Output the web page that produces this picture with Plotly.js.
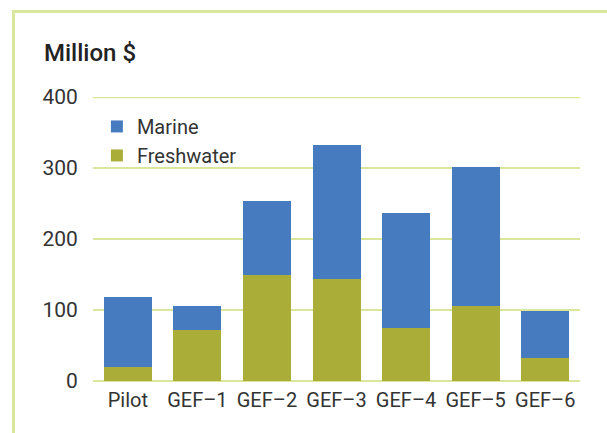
<!DOCTYPE html>
<html>
<head>
<meta charset="utf-8">
<script src="https://cdn.plot.ly/plotly-3.0.1.min.js"></script>
<style>
  html, body { margin: 0; padding: 0; background: #ffffff; }
  #wrap { position: relative; width: 607px; height: 433px; overflow: hidden; }
  #chart { position: absolute; left: 0; top: 0; width: 607px; height: 433px; }
  #frame {
    position: absolute; left: 12px; top: 10px; width: 620px; height: 450px;
    border-left: 3px solid #d9e79c; border-top: 3px solid #d9e79c;
    box-sizing: border-box; pointer-events: none;
  }
</style>
</head>
<body>
<div id="wrap">
  <div id="chart"></div>
  <div id="frame"></div>
</div>
<script>
// Funding per GEF period, million US$
const periods = ["Pilot", "GEF\u20131", "GEF\u20132", "GEF\u20133", "GEF\u20134", "GEF\u20135", "GEF\u20136"];
const freshwater = [20, 72, 150, 143, 75, 106, 33];
const marine = [99, 34, 104, 190, 161, 195, 65];
const yTicks = [0, 100, 200, 300, 400];
const yMax = 400;

const FONT = "Roboto, 'DejaVu Sans', sans-serif";
const TEXT = "#333333";
const GRID = "#d9e79c";

const traces = [
  {
    type: "bar", name: "Freshwater", x: periods, y: freshwater,
    marker: { color: "#aaae38" }, hoverinfo: "skip"
  },
  {
    type: "bar", name: "Marine", x: periods, y: marine,
    marker: { color: "#477bbf" }, hoverinfo: "skip"
  }
];

const layout = {
  width: 607, height: 433,
  margin: { l: 93, r: 27, t: 97, b: 52 },
  paper_bgcolor: "rgba(0,0,0,0)",
  plot_bgcolor: "rgba(0,0,0,0)",
  barmode: "stack",
  bargap: 0.31,
  font: { family: FONT, size: 21, color: TEXT },
  title: {
    text: "Million $",
    font: { family: FONT, size: 24, color: "#222222", weight: 500 },
    xref: "container", yref: "container",
    x: 44 / 607, xanchor: "left",
    y: 1 - 53 / 433, yanchor: "middle"
  },
  xaxis: {
    showgrid: false, zeroline: false, showline: false,
    ticks: "outside", ticklen: 1, tickcolor: "rgba(0,0,0,0)",
    tickfont: { family: FONT, size: 20, color: TEXT },
    fixedrange: true
  },
  yaxis: {
    range: [0, yMax],
    tickvals: yTicks,
    ticktext: yTicks.map(String),
    showgrid: true, gridcolor: GRID, gridwidth: 2.5,
    zeroline: true, zerolinecolor: GRID, zerolinewidth: 2.5,
    showline: false,
    ticks: "outside", ticklen: 10, tickcolor: "rgba(0,0,0,0)",
    tickfont: { family: FONT, size: 21, color: TEXT },
    fixedrange: true
  },
  // the top grid line sits on the plot edge, where Plotly skips it
  shapes: [{
    type: "line", xref: "paper", x0: 0, x1: 1,
    yref: "y", y0: yMax, y1: yMax,
    line: { color: GRID, width: 2.5 }, layer: "below"
  }],
  showlegend: true,
  legend: {
    x: 0.008, xanchor: "left",
    y: 0.965, yanchor: "top",
    traceorder: "reversed",
    bgcolor: "rgba(0,0,0,0)",
    font: { family: FONT, size: 20, color: TEXT },
    tracegroupgap: 0
  }
};

Plotly.newPlot("chart", traces, layout, { staticPlot: true, displayModeBar: false });
</script>
</body>
</html>
